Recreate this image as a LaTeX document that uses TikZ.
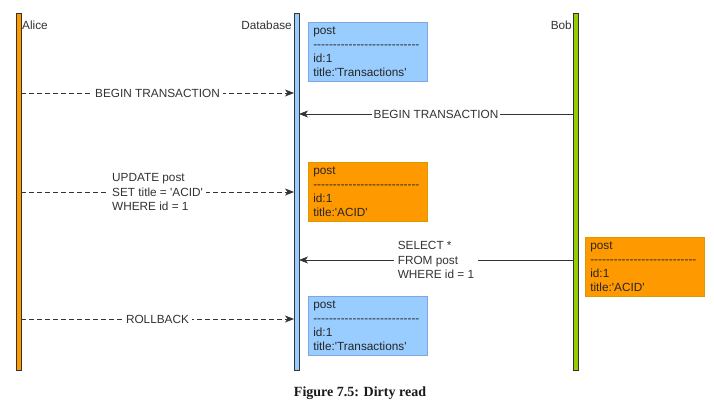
\documentclass[tikz,border=0pt]{standalone}
\usepackage{fontspec}
\newfontfamily\arialf{Liberation Sans}
\newfontfamily\capf{Liberation Serif}
\usetikzlibrary{arrows.meta}
\definecolor{barorange}{HTML}{FF9900}
\definecolor{barblue}{HTML}{99CCFF}
\definecolor{bargreen}{HTML}{99CC00}
\definecolor{boxblue}{HTML}{99CCFF}
\definecolor{boxblueline}{HTML}{7EA6E0}
\definecolor{boxorange}{HTML}{FF9900}
\definecolor{boxorangeline}{HTML}{D79B00}
\definecolor{linegray}{HTML}{333333}
\tikzset{
  x=1pt, y=-1pt,
  txt/.style={font=\arialf\fontsize{11.8}{14.5}\selectfont, text=linegray},
  lifebar/.style={draw=linegray, line width=0.8pt, minimum width=5pt, minimum height=357pt, inner sep=0pt, anchor=north west},
  postbox/.style={txt, font=\arialf\fontsize{11.8}{14}\selectfont, text=black!85, anchor=north west, minimum width=119pt, minimum height=59pt, text width=109pt, inner xsep=5pt, inner ysep=0pt, align=left, line width=0.6pt},
  msg/.style={line width=0.8pt, draw=linegray, -{Stealth[length=9pt,width=7pt,inset=2.5pt]}},
  dmsg/.style={msg, dash pattern=on 5pt off 3pt},
  lbl/.style={txt, fill=white, inner xsep=3pt, inner ysep=1pt, align=left},
}
\newcommand{\hyphline}{-{}-{}-{}-{}-{}-{}-{}-{}-{}-{}-{}-{}-{}-{}-{}-{}-{}-{}-{}-{}-{}-{}-{}-{}-{}-{}-}
\begin{document}
\begin{tikzpicture}
\useasboundingbox[fill=white] (0,0) rectangle (714,406);
% lifelines
\node[lifebar, fill=barorange] (alice) at (16,13) {};
\node[lifebar, fill=barblue] (db) at (294,13) {};
\node[lifebar, fill=bargreen] (bob) at (573,13) {};
\node[txt, anchor=base west, inner sep=0pt] (alicel) at (22,30) {Alice};
\node[txt, anchor=base east, inner sep=0pt] (dbl) at (292,30) {Database};
\node[txt, anchor=base east, inner sep=0pt] (bobl) at (572,30) {Bob};
% boxes
\node[postbox, fill=boxblue, draw=boxblueline] (b1) at (308,22) {post\\\hyphline\\id:1\\title:'Transactions'};
\node[postbox, fill=boxorange, draw=boxorangeline] (b2) at (308,162) {post\\\hyphline\\id:1\\title:'ACID'};
\node[postbox, fill=boxorange, draw=boxorangeline] (b3) at (585,237) {post\\\hyphline\\id:1\\title:'ACID'};
\node[postbox, fill=boxblue, draw=boxblueline] (b4) at (308,296) {post\\\hyphline\\id:1\\title:'Transactions'};
% message anchors
\coordinate (a1) at (21,93);   \coordinate (d1) at (294,93);
\coordinate (o2) at (573,114); \coordinate (d2) at (299,114);
\coordinate (a3) at (21,192);  \coordinate (d3) at (294,192);
\coordinate (o4) at (573,260); \coordinate (d4) at (299,260);
\coordinate (a5) at (21,319);  \coordinate (d5) at (294,319);
% messages
\draw[dmsg] (a1) -- node[lbl] (m1) {BEGIN TRANSACTION} (d1);
\draw[msg] (o2) -- node[lbl, inner xsep=2pt] (m2) {BEGIN TRANSACTION} (d2);
\draw[dmsg] (a3) -- node[lbl] (m3) {UPDATE post\\SET title = 'ACID'\\WHERE id = 1} (d3);
\draw[msg] (o4) -- node[lbl, inner xsep=4pt] (m4) {SELECT *\\FROM post\\WHERE id = 1} (d4);
\draw[dmsg] (a5) -- node[lbl] (m5) {ROLLBACK} (d5);
% caption
\node[font=\capf\bfseries\fontsize{14}{16}\selectfont, anchor=base, text=black!90] (cap) at (360,396) {Figure 7.5: Dirty read};
\end{tikzpicture}
\end{document}
